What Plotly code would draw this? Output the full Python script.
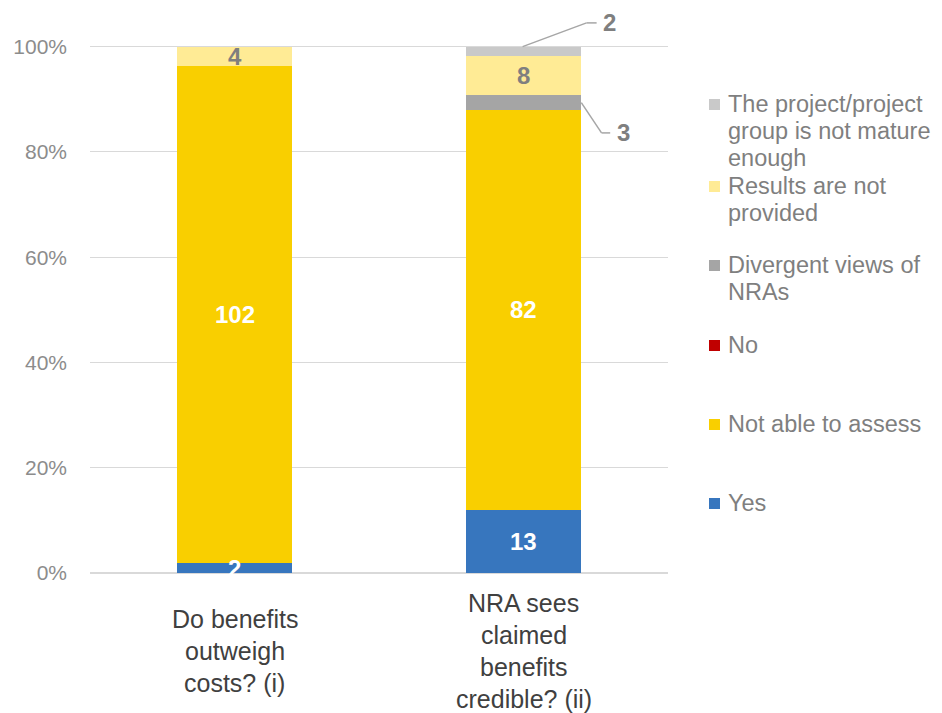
import plotly.graph_objects as go

# --- data -------------------------------------------------------------
categories = [
    "Do benefits<br>outweigh<br>costs? (i)",
    "NRA sees<br>claimed<br>benefits<br>credible? (ii)",
]
series_names = [
    "Yes",
    "Not able to assess",
    "No",
    "Divergent views of NRAs",
    "Results are not provided",
    "The project/project group is not mature enough",
]
legend_lines = {
    "Yes": ["Yes"],
    "Not able to assess": ["Not able to assess"],
    "No": ["No"],
    "Divergent views of NRAs": ["Divergent views of", "NRAs"],
    "Results are not provided": ["Results are not", "provided"],
    "The project/project group is not mature enough": [
        "The project/project", "group is not mature", "enough"],
}
counts = {
    "Yes": [2, 13],
    "Not able to assess": [102, 82],
    "No": [0, 0],
    "Divergent views of NRAs": [0, 3],
    "Results are not provided": [4, 8],
    "The project/project group is not mature enough": [0, 2],
}
colors = {
    "Yes": "#3776BE",
    "Not able to assess": "#F9CF00",
    "No": "#C00000",
    "Divergent views of NRAs": "#A5A5A5",
    "Results are not provided": "#FFEB95",
    "The project/project group is not mature enough": "#C9C9C9",
}
label_colors = {
    "Yes": "white",
    "Not able to assess": "white",
    "No": "white",
    "Divergent views of NRAs": "#7F7F7F",
    "Results are not provided": "#7F7F7F",
    "The project/project group is not mature enough": "#7F7F7F",
}
y_ticks = [0, 20, 40, 60, 80, 100]

# --- layout geometry (pixels) ----------------------------------------
W, H = 942, 713
L, R, T, B = 90, 668, 15, 573
Y_MAX = 106
FONT = "Liberation Sans, Arial, sans-serif"


def px_x(px):
    return (px - L) / (R - L)


def px_y(py):
    return (B - py) / (B - T)


n_cat = len(categories)
totals = [sum(counts[s][i] for s in series_names) for i in range(n_cat)]
pct = {s: [100 * counts[s][i] / totals[i] for i in range(n_cat)] for s in series_names}

fig = go.Figure()
for s in series_names:
    fig.add_trace(go.Bar(
        x=list(range(n_cat)), y=pct[s], name=s,
        marker=dict(color=colors[s], line=dict(width=0)),
        showlegend=False, hoverinfo="skip",
    ))

annotations = []
shapes = []

# data labels: centred in segment, or placed beside it with a leader line
callouts = {
    # (category, series): (label dx, label dy, elbow dx, elbow dy, end dx, anchor)
    (1, "The project/project group is not mature enough"): (0.298, 4.7, 0.218, 4.5, 0.253, "top"),
    (1, "Divergent views of NRAs"): (0.346, -5.75, 0.27, -5.75, 0.30, "right"),
}
for i in range(n_cat):
    base = 0.0
    for s in series_names:
        v = pct[s][i]
        if counts[s][i] == 0:
            base += v
            continue
        mid = base + v / 2
        key = (i, s)
        if key in callouts:
            ldx, ldy, edx, edy, endx, anchor = callouts[key]
            if anchor == "top":
                sx, sy = i - 0.003, base + v
            else:
                sx, sy = i + 0.2, mid
            ey = sy + edy if anchor == "right" else base + v + edy
            ly = ey
            pts = [(sx, sy), (i + edx, ey), (i + endx, ey)]
            for (x0, y0), (x1, y1) in zip(pts[:-1], pts[1:]):
                shapes.append(dict(type="line", xref="x", yref="y",
                                   x0=x0, y0=y0, x1=x1, y1=y1,
                                   line=dict(color="#A6A6A6", width=1.5)))
            annotations.append(dict(
                x=i + ldx, y=ly, xref="x", yref="y", text=f"<b>{counts[s][i]}</b>",
                showarrow=False, font=dict(family=FONT, size=24, color="#7F7F7F"),
                xanchor="center", yanchor="middle"))
        else:
            annotations.append(dict(
                x=i, y=mid, xref="x", yref="y", text=f"<b>{counts[s][i]}</b>",
                showarrow=False, font=dict(family=FONT, size=24, color=label_colors[s]),
                xanchor="center", yanchor="middle"))
        base += v

# category labels, one line each, vertically centred under the axis
cat_center_py = 651
cat_line_gap = 32
for i, c in enumerate(categories):
    lines = c.split("<br>")
    top = cat_center_py - (len(lines) - 1) / 2 * cat_line_gap
    for k, line in enumerate(lines):
        annotations.append(dict(
            x=i, y=px_y(top + k * cat_line_gap), xref="x", yref="paper",
            text=line, showarrow=False, xanchor="center", yanchor="middle",
            font=dict(family=FONT, size=25, color="#404040")))

# legend drawn as squares + text, top to bottom in reverse stacking order
leg_item_py = [104, 186, 265, 345, 424, 503]
leg_line_gap = 27
for k, s in enumerate(reversed(series_names)):
    py = leg_item_py[k]
    shapes.append(dict(type="rect", xref="paper", yref="paper",
                       x0=px_x(709), x1=px_x(720), y0=px_y(py - 5), y1=px_y(py + 6),
                       fillcolor=colors[s], line=dict(width=0)))
    for j, line in enumerate(legend_lines[s]):
        annotations.append(dict(
            x=px_x(726), y=px_y(py + j * leg_line_gap), xref="paper", yref="paper",
            text=line, showarrow=False, xanchor="left", yanchor="middle",
            font=dict(family=FONT, size=23.5, color="#7F7F7F")))

fig.update_layout(
    width=W, height=H,
    margin=dict(l=L, r=W - R, t=T, b=H - B, pad=0),
    paper_bgcolor="white", plot_bgcolor="white",
    barmode="stack", bargap=0.6,
    showlegend=False,
    annotations=annotations, shapes=shapes,
    xaxis=dict(range=[-0.5, n_cat - 0.5], showticklabels=False, showgrid=False,
               zeroline=False, showline=False, fixedrange=True),
    yaxis=dict(range=[0, Y_MAX], tickvals=y_ticks, ticktext=[f"{t}%" for t in y_ticks],
               showgrid=True, gridcolor="#D9D9D9", gridwidth=1,
               zeroline=True, zerolinecolor="#D9D9D9", zerolinewidth=1.5,
               showline=False, ticks="", ticklabelstandoff=22,
               tickfont=dict(family=FONT, size=21, color="#8C8C8C")),
)

fig.write_html("out.html")
